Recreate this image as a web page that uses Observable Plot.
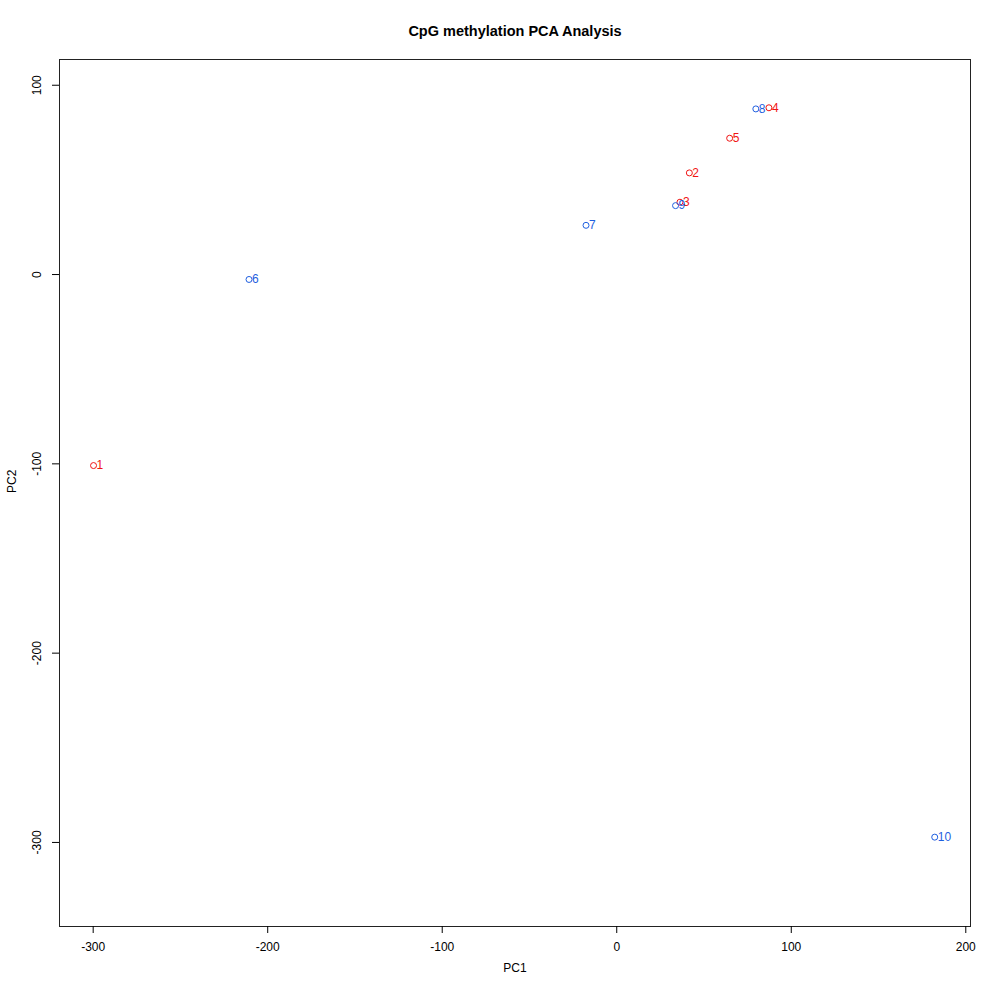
<!DOCTYPE html>
<html>
<head>
<meta charset="utf-8">
<script src="https://cdn.jsdelivr.net/npm/d3@7"></script>
<script src="https://cdn.jsdelivr.net/npm/@observablehq/plot@0.6"></script>
<style>
  html, body { margin: 0; padding: 0; background: #fff; }
  #chart svg { display: block; }
</style>
</head>
<body>
<div id="chart"></div>
<script>
const sampleIds = ["1", "2", "3", "4", "5", "6", "7", "8", "9", "10"];
const pc1 = [-299.8, 41.6, 36.2, 87.2, 64.7, -210.7, -17.6, 79.7, 33.7, 182.2];
const pc2 = [-100.9, 53.7, 38.2, 88.1, 72.0, -2.6, 26.0, 87.5, 36.4, -297.2];
const group = ["red", "red", "red", "red", "red", "blue", "blue", "blue", "blue", "blue"];
const xTicks = [-300, -200, -100, 0, 100, 200];
const yTicks = [100, 0, -100, -200, -300];
const titleText = "CpG methylation PCA Analysis";
const xLabel = "PC1";
const yLabel = "PC2";

const colorMap = { red: "#f01414", blue: "#1f5fe0" };
const data = sampleIds.map((id, i) => ({ id, x: pc1[i], y: pc2[i], g: group[i] }));

const font = "'Liberation Sans', Arial, Helvetica, sans-serif";

const chart = Plot.plot({
  width: 1000,
  height: 1000,
  marginLeft: 59,
  marginRight: 30,
  marginTop: 59,
  marginBottom: 74,
  style: { fontFamily: font, fontSize: "12px", background: "#fff", color: "#000" },
  x: { domain: [-319.3, 202.7] },
  y: { domain: [-344.4, 113.6] },
  marks: [
    Plot.frame({ stroke: "#222", strokeWidth: 1 }),
    Plot.axisX({ ticks: xTicks, tickSize: 7, tickPadding: 9, tickFormat: d => String(d).replace("−", "-"), label: null, fontSize: 12 }),
    Plot.axisY({ ticks: yTicks, tickSize: 7, tickFormat: () => "", label: null }),
    Plot.text(yTicks, { y: d => d, frameAnchor: "left", dx: -22, rotate: -90, text: d => String(d), fontSize: 12, textAnchor: "middle" }),
    Plot.text([titleText], { frameAnchor: "top", dy: -34, text: d => d, fontWeight: "bold", fontSize: 14.5 }),
    Plot.text([xLabel], { frameAnchor: "bottom", dy: 45, text: d => d, fontSize: 12 }),
    Plot.text([yLabel], { frameAnchor: "left", dx: -47, rotate: -90, text: d => d, fontSize: 12 }),
    Plot.dot(data, { x: "x", y: "y", r: 3, stroke: d => colorMap[d.g], strokeWidth: 1, fill: "none" }),
    Plot.text(data, { x: "x", y: "y", text: "id", fill: d => colorMap[d.g], textAnchor: "start", dx: 3, fontSize: 12 })
  ]
});
document.getElementById("chart").appendChild(chart);
</script>
</body>
</html>
